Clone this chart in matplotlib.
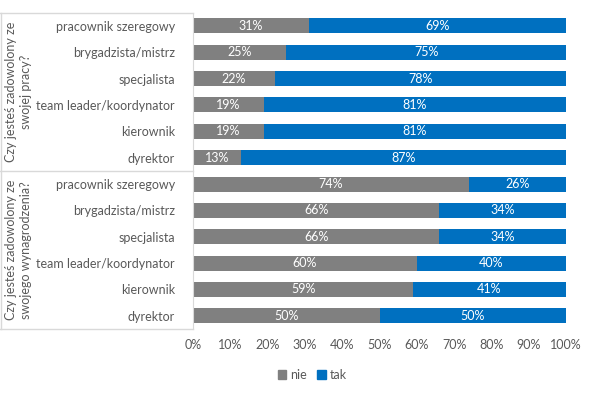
import matplotlib
matplotlib.use("Agg")
import matplotlib.pyplot as plt
from matplotlib.lines import Line2D
from matplotlib.patches import Patch

plt.rcParams['font.family'] = ['Lato', 'DejaVu Sans']

roles = ["pracownik szeregowy", "brygadzista/mistrz", "specjalista",
         "team leader/koordynator", "kierownik", "dyrektor"]
groups = ["Czy jesteś zadowolony ze\nswojej pracy?",
          "Czy jesteś zadowolony ze\nswojego wynagrodzenia?"]
nie_praca = [31, 25, 22, 19, 19, 13]
tak_praca = [69, 75, 78, 81, 81, 87]
nie_wyn = [74, 66, 66, 60, 59, 50]
tak_wyn = [26, 34, 34, 40, 41, 50]
xticks = [0, 10, 20, 30, 40, 50, 60, 70, 80, 90, 100]

nie = nie_praca + nie_wyn
tak = tak_praca + tak_wyn
labels = roles + roles
n = len(labels)
ypos = list(range(n))

GREY = "#808080"
BLUE = "#0070C0"
TXT = "#595959"
LINE = "#D9D9D9"

W, H = 589, 404
fig = plt.figure(figsize=(W / 100, H / 100), dpi=100)
left, right, top, bottom = 193, 566, 12.7, 329
ax = fig.add_axes([left / W, 1 - bottom / H, (right - left) / W, (bottom - top) / H])

bh = 0.57
ax.barh(ypos, nie, height=bh, color=GREY, label="nie")
ax.barh(ypos, tak, left=nie, height=bh, color=BLUE, label="tak")
for y, a, b in zip(ypos, nie, tak):
    ax.text(a / 2, y, f"{a}%", ha="center", va="center", color="white", fontsize=9)
    ax.text(a + b / 2, y, f"{b}%", ha="center", va="center", color="white", fontsize=9)

ax.set_ylim(n - 0.5, -0.5)
ax.set_xlim(0, 100)
ax.set_xticks(xticks)
ax.set_xticklabels([f"{t}%" for t in xticks], color=TXT, fontsize=9)
ax.set_yticks(ypos)
ax.set_yticklabels(labels, color=TXT, fontsize=9)
ax.tick_params(axis="x", length=0, pad=7)
ax.tick_params(axis="y", length=0, pad=13)
for s in ["top", "right", "bottom"]:
    ax.spines[s].set_visible(False)
ax.spines["left"].set_color(LINE)

def fl(x0, y0, x1, y1):
    fig.add_artist(Line2D([x0 / W, x1 / W], [1 - y0 / H, 1 - y1 / H],
                          color=LINE, lw=1, transform=fig.transFigure))

mid = (top + bottom) / 2
fl(0, top, left, top)
fl(0, mid, left, mid)
fl(0, bottom, left, bottom)
fl(0.5, top, 0.5, bottom)

for i, g in enumerate(groups):
    yc = top + (mid - top) * (i + 0.5)
    fig.text(19 / W, 1 - yc / H, g, rotation=90, ha="center", va="center",
             color=TXT, fontsize=9, multialignment="center", linespacing=1.3)

fig.legend(handles=[Patch(color=GREY, label="nie"), Patch(color=BLUE, label="tak")],
           loc="center", bbox_to_anchor=(312 / W, 1 - 375 / H), ncol=2, frameon=False,
           fontsize=9, labelcolor=TXT, handlelength=0.7, handleheight=0.7,
           handletextpad=0.3, columnspacing=0.8)

fig.savefig("out.png", dpi=100)
